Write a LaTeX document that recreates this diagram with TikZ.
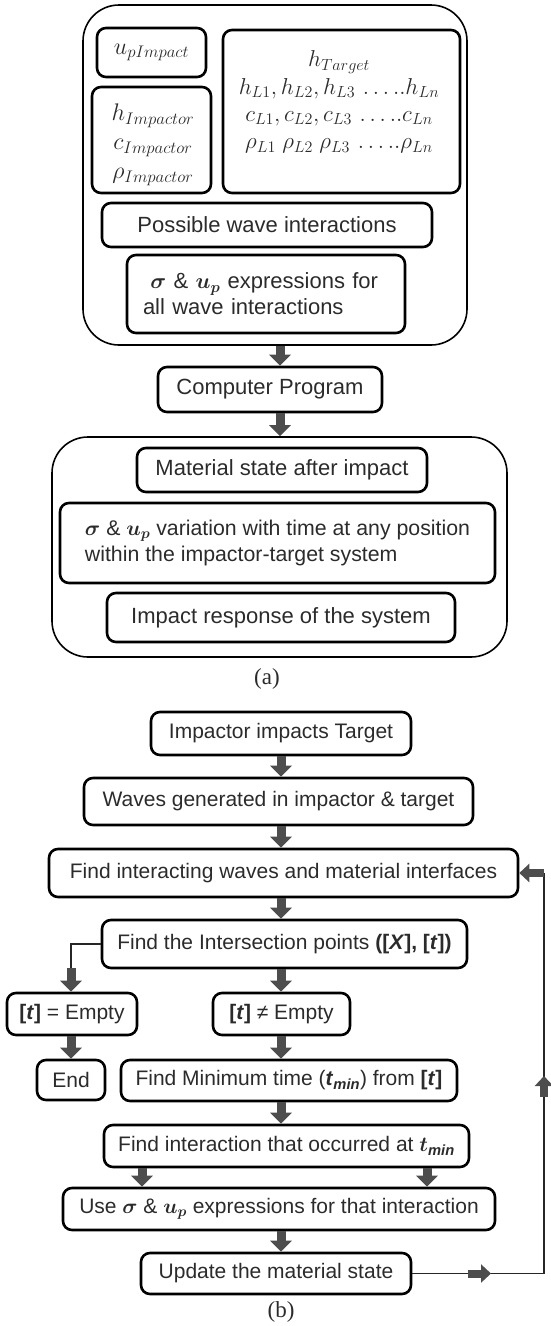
\RequirePackage{fix-cm}
\documentclass[tikz,border=0pt]{standalone}
\usepackage{amsmath}
\usepackage{fontspec}
\setmainfont{Liberation Sans}
\newfontfamily\capfont{Liberation Serif}
\usetikzlibrary{arrows.meta}
\definecolor{arrowgray}{HTML}{4D4D4D}
\definecolor{txt}{HTML}{2B2B2B}
\tikzset{
  box/.style={draw=black, line width=2.6pt, rounded corners=9pt, inner sep=0pt, text=txt,
    font=\fontsize{22}{26}\selectfont},
  boxb/.style={box, font=\fontsize{21}{25}\selectfont},
  outerbox/.style={draw=black, line width=1.6pt, rounded corners=36pt, inner sep=0pt},
  mtext/.style={inner sep=0pt, align=center, text=txt},
  blk/.style={draw=arrowgray, line width=9pt, -{Triangle[width=21pt,length=11pt]}},
  blks/.style={draw=arrowgray, line width=8pt, -{Triangle[width=18pt,length=10pt]}},
  thinline/.style={draw=black!85, line width=1.5pt},
  caplabel/.style={inner sep=0pt, font=\capfont\fontsize{23}{26}\selectfont, text=txt}
}
\begin{document}
\begin{tikzpicture}[x=1pt, y=-1pt]
\useasboundingbox (0,0) rectangle (551,1326);

% ---------- (a) ----------
\node[outerbox, minimum width=384pt, minimum height=340pt] (outA) at (275,175) {};
\node[box, minimum width=109pt, minimum height=49pt, font=\fontsize{24}{28}\selectfont] (uimp) at (151.5,52.5) {$u_{pImpact}$};
\node[box, minimum width=119pt, minimum height=106pt] (imp) at (151.5,140) {};
\node[mtext, font=\fontsize{24}{29}\selectfont] (impt) at (153,145) {$h_{Impactor}$\\ $c_{Impactor}$\\ $\rho_{Impactor}$};
\node[box, minimum width=237pt, minimum height=163pt] (tgt) at (341.5,111.5) {};
\node[mtext, font=\fontsize{23}{27.3}\selectfont] (tgtt) at (339,102) {$h_{Target}$\\ $h_{L1}, h_{L2}, h_{L3}\,\ldots..h_{Ln}$\\ $c_{L1}, c_{L2}, c_{L3}\,\ldots..c_{Ln}$\\ $\rho_{L1}\ \rho_{L2}\ \rho_{L3}\,\ldots..\rho_{Ln}$};
\node[box, minimum width=330pt, minimum height=44pt] (pwi) at (267,225) {Possible wave interactions};
\node[box, minimum width=278pt, minimum height=78pt, text width=246pt, align=left] (sig) at (266,294) {\ $\boldsymbol{\sigma}$ \& $\boldsymbol{u_p}$ expressions for\\ all wave interactions};
\node[box, minimum width=224pt, minimum height=45pt] (cp) at (270,389.5) {Computer Program};
\node[outerbox, minimum width=455pt, minimum height=220pt] (outB) at (279.5,547) {};
\node[box, minimum width=290pt, minimum height=44pt] (mat) at (282,470) {Material state after impact};
\node[box, minimum width=435pt, minimum height=80pt, align=left, font=\fontsize{21.3}{26}\selectfont] (var) at (277.5,543) {$\boldsymbol{\sigma}$ \& $\boldsymbol{u_p}$ variation with time at any position\\ within the impactor-target system};
\node[box, minimum width=348pt, minimum height=49pt] (resp) at (281,617.5) {Impact response of the system};
\node[caplabel] (lbla) at (267,679) {(a)};

\coordinate (ax) at (280,0);
\draw[blk] (ax |- outA.south) -- (ax |- cp.north);
\draw[blk] (ax |- cp.south) -- (ax |- outB.north);

% ---------- (b) ----------
\node[boxb, minimum width=260pt, minimum height=43pt] (iit) at (281,733.5) {Impactor impacts Target};
\node[boxb, minimum width=389pt, minimum height=47pt] (wg) at (278.5,801.5) {Waves generated in impactor \& target};
\node[boxb, minimum width=469pt, minimum height=48pt] (fiw) at (283.5,873) {Find interacting waves and material interfaces};
\node[boxb, minimum width=365pt, minimum height=48pt] (fip) at (284.5,944) {Find the Intersection points \textbf{([\textit{X}], [\textit{t}])}};
\node[boxb, minimum width=130pt, minimum height=42pt] (tE) at (72,1014) {\textbf{[\textit{t}]} = Empty};
\node[boxb, minimum width=137pt, minimum height=42pt] (tN) at (281.5,1014) {\textbf{[\textit{t}]} ≠ Empty};
\node[boxb, minimum width=68pt, minimum height=40pt] (endn) at (71,1080) {End};
\node[boxb, minimum width=336pt, minimum height=41pt] (fmt) at (289,1080.5) {Find Minimum time (\textbf{\textit{t}\textsubscript{\textit{min}}}) from \textbf{[\textit{t}]}};
\node[boxb, minimum width=365pt, minimum height=42pt] (fint) at (286.5,1146) {Find interaction that occurred at $\boldsymbol{t}$\textsubscript{\textbf{\textit{min}}}};
\node[boxb, minimum width=432pt, minimum height=42pt] (use) at (279,1209) {Use $\boldsymbol{\sigma}$ \& $\boldsymbol{u_p}$ expressions for that interaction};
\node[boxb, minimum width=270pt, minimum height=41pt] (upd) at (276,1273.5) {Update the material state};
\node[caplabel] (lblb) at (281,1312) {(b)};

\coordinate (bx) at (281,0);
\coordinate (lx) at (71,0);
\coordinate (fx1) at (142,0);
\coordinate (fx2) at (427,0);
\draw[blk] (bx |- iit.south) -- (bx |- wg.north);
\draw[blk] (bx |- wg.south) -- (bx |- fiw.north);
\draw[blk] (bx |- fiw.south) -- (bx |- fip.north);
\draw[blk] (bx |- fip.south) -- (bx |- tN.north);
\draw[blk] (bx |- tN.south) -- (bx |- fmt.north);
\draw[blk] (bx |- fmt.south) -- (bx |- fint.north);
\draw[blk] (fx1 |- fint.south) -- (fx1 |- use.north);
\draw[blk] (fx2 |- fint.south) -- (fx2 |- use.north);
\draw[blk] (bx |- use.south) -- (bx |- upd.north);
\draw[blk] (lx |- tE.south) -- (lx |- endn.north);

% left branch
\coordinate (brk) at (71,968);
\draw[thinline] (fip.west) -| (brk);
\draw[blk] (brk) -- (lx |- tE.north);

% feedback loop
\coordinate (fbTop) at (544,873);
\draw[thinline] (upd.east) -| (fbTop);
\draw[blks] (fbTop) -- (fiw.east);
\coordinate (ha) at (468,0);
\coordinate (hb) at (491,0);
\draw[blks] (ha |- upd.east) -- (hb |- upd.east);
\coordinate (va) at (544,1097);
\coordinate (vb) at (544,1076);
\draw[blks] (va) -- (vb);
\end{tikzpicture}
\end{document}
